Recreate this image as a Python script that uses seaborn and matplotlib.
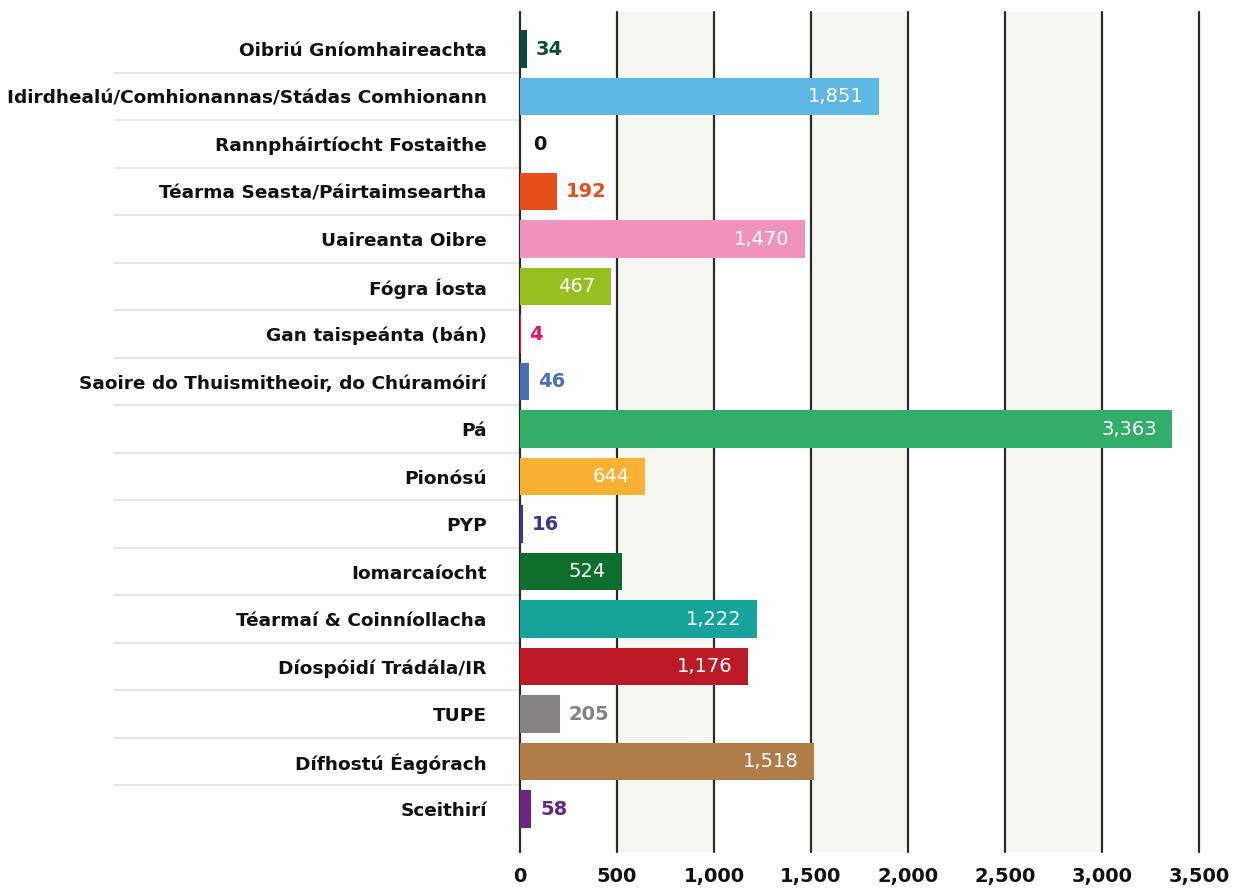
import matplotlib
matplotlib.use('Agg')
import matplotlib.pyplot as plt
import matplotlib.transforms as mtransforms
import seaborn as sns

# Sonraí
categories = [
    'Oibriú Gníomhaireachta',
    'Idirdhealú/Comhionannas/Stádas Comhionann',
    'Rannpháirtíocht Fostaithe',
    'Téarma Seasta/Páirtaimseartha',
    'Uaireanta Oibre',
    'Fógra Íosta',
    'Gan taispeánta (bán)',
    'Saoire do Thuismitheoir, do Chúramóirí',
    'Pá',
    'Pionósú',
    'PYP',
    'Iomarcaíocht',
    'Téarmaí & Coinníollacha',
    'Díospóidí Trádála/IR',
    'TUPE',
    'Dífhostú Éagórach',
    'Sceithirí',
]
values = [34, 1851, 0, 192, 1470, 467, 4, 46, 3363, 644, 16, 524, 1222, 1176, 205, 1518, 58]
bar_colors = ['#0b4d3c', '#5fb8e3', '#222222', '#e84e1b', '#f093bd', '#97bf22', '#e0156b',
              '#4b6fb5', '#33ad6a', '#f8b133', '#3b3893', '#0e6e2e', '#16a39a', '#bc1a26',
              '#858282', '#b07d48', '#6b2580']
xticks = [0, 500, 1000, 1500, 2000, 2500, 3000, 3500]

sns.set_style('white')
plt.rcParams['font.family'] = ['DejaVu Sans']

fig = plt.figure(figsize=(12.39, 8.9), dpi=100)
ax = fig.add_axes([520 / 1239, 1 - 852 / 890, 679 / 1239, 840 / 890])

# bandaí cúlra
for start in [500, 1500, 2500]:
    ax.axvspan(start, start + 500, color='#f7f7f2', zorder=0, lw=0)

sns.barplot(x=values, y=categories, hue=categories, palette=bar_colors,
            orient='h', legend=False, width=0.78, ax=ax, saturation=1,
            linewidth=0, zorder=3)

ax.set_xlim(0, 3500)
ax.set_ylim(16.905, -0.779)
for x in xticks:
    ax.axvline(x, color='#2b2b2b', lw=1.6, zorder=2, clip_on=False)

# línte idir na rónna
trans = mtransforms.blended_transform_factory(ax.transAxes, ax.transData)
for i in range(len(categories) - 1):
    ax.plot([-406 / 679, 0], [i + 0.5, i + 0.5], transform=trans, color='#e8e8e8',
            lw=1.6, clip_on=False, zorder=1)

# lipéid luachanna
for i, v in enumerate(values):
    txt = f'{v:,}'
    if v >= 400:
        ax.text(v - 80, i, txt, color='white', ha='right', va='center',
                fontsize=14, fontweight='normal', zorder=4)
    else:
        col = '#111111' if v == 0 else bar_colors[i]
        ax.text(v + 45 if v > 0 else 70, i, txt, color=col, ha='left', va='center',
                fontsize=14, fontweight='bold', zorder=4)

ax.set_xticks(xticks)
ax.set_xticklabels([f'{t:,}' for t in xticks], fontsize=14, fontweight='bold', color='#111111')
ax.tick_params(axis='x', length=0, pad=11)
ax.tick_params(axis='y', length=0, pad=24)
for lab in ax.get_yticklabels():
    lab.set_fontweight('bold')
    lab.set_fontsize(13.3)
    lab.set_color('#111111')
ax.set_xlabel('')
ax.set_ylabel('')
for s in ax.spines.values():
    s.set_visible(False)

fig.savefig('out.png', dpi=100)
